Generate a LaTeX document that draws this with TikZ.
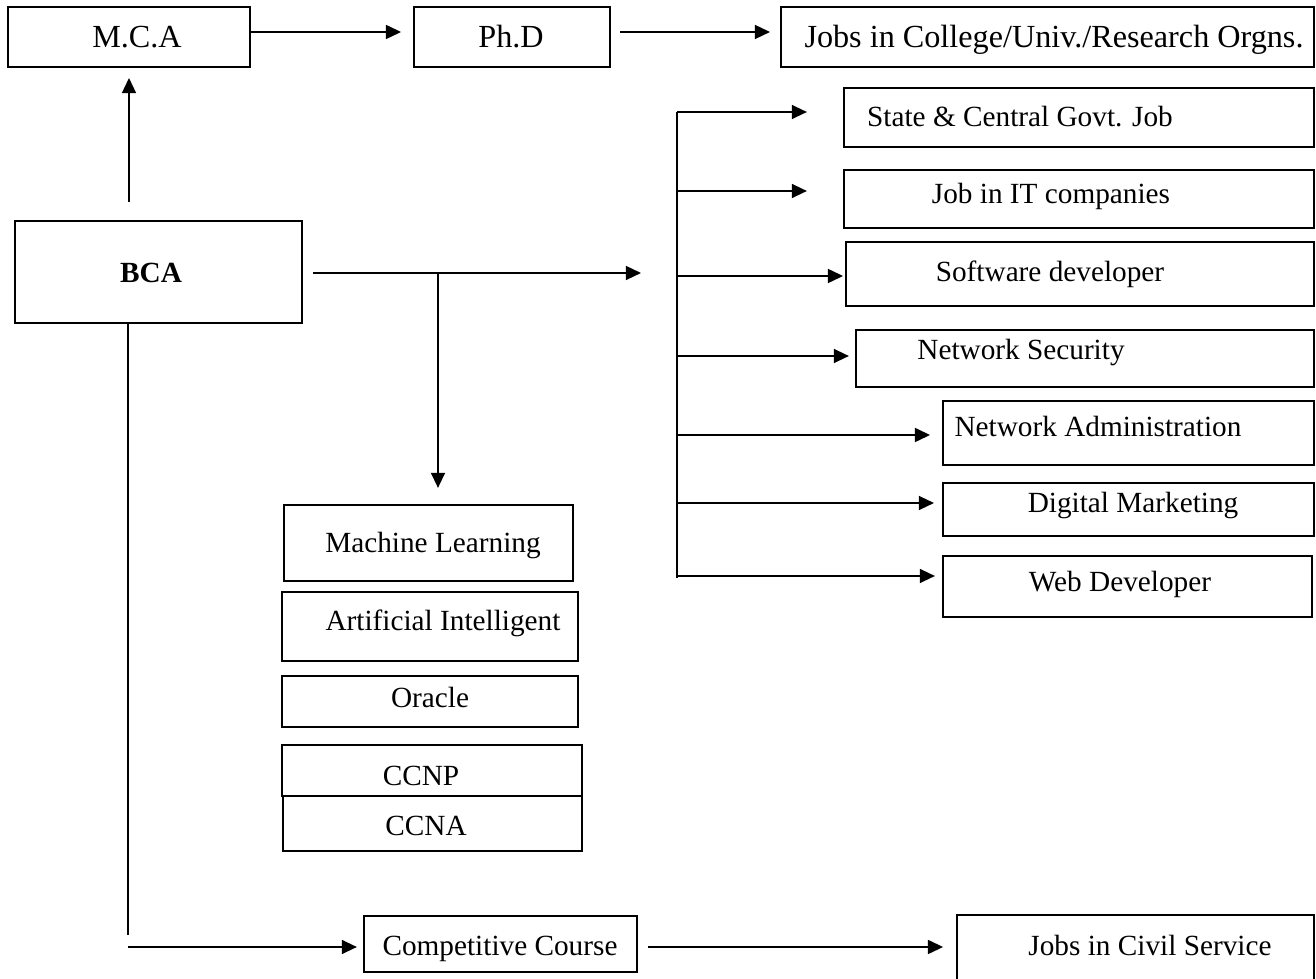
\documentclass[tikz,border=0pt]{standalone}
\usepackage{fontspec}
\setmainfont{Liberation Serif}
\usetikzlibrary{arrows.meta,fit}
\tikzstyle{box}=[draw,line width=0.8pt,inner sep=0pt]
\tikzstyle{txt}=[anchor=base,inner sep=0pt,font=\fontsize{12}{14}\selectfont]
\tikzstyle{toptxt}=[txt,font=\fontsize{13.2}{15}\selectfont]
\tikzstyle{arr}=[line width=0.8pt,-{Triangle[length=6.2pt,width=5.7pt]}]

\begin{document}
\begin{tikzpicture}[x=0.41pt,y=-0.41pt]
\useasboundingbox (0,0) rectangle (1316,979);

% top row
\node[box,fit={(8,7) (250,67)}] (mca) {};
\node[box,fit={(414,7) (610,67)}] (phd) {};
\node[box,fit={(781,7) (1314,67)}] (jobs) {};
\node[toptxt] (mcatxt) at (137,48) {M.C.A};
\node[toptxt] (phdtxt) at (511,48) {Ph.D};
\node[toptxt] (jobstxt) at (1054,48) {Jobs in College/Univ./Research Orgns.};

% BCA
\node[box,fit={(15,221) (302,323)}] (bca) {};
\node[txt] (bcatxt) at (151,283) {\textbf{BCA}};

% jobs on the right
\node[box,fit={(844,88) (1314,147)}] (state) {};
\node[box,fit={(844,170) (1314,228)}] (itjob) {};
\node[box,fit={(846,242) (1314,306)}] (soft) {};
\node[box,fit={(856,330) (1314,387)}] (netsec) {};
\node[box,fit={(943,401) (1314,465)}] (netadm) {};
\node[box,fit={(943,483) (1314,536)}] (digmkt) {};
\node[box,fit={(943,556) (1312,617)}] (webdev) {};
\node[txt] (statetxt) at (1020,127) {State \& Central Govt. Job};
\node[txt] (itjobtxt) at (1051,204) {Job in IT companies};
\node[txt] (softtxt) at (1050,282) {Software developer};
\node[txt] (netsectxt) at (1021,360) {Network Security};
\node[txt] (netadmtxt) at (1098,437) {Network Administration};
\node[txt] (digmkttxt) at (1133,513) {Digital Marketing};
\node[txt] (webdevtxt) at (1120,592) {Web Developer};

% courses
\node[box,fit={(284,505) (573,581)}] (ml) {};
\node[box,fit={(282,592) (578,661)}] (ai) {};
\node[box,fit={(282,676) (578,727)}] (oracle) {};
\node[box,fit={(282,745) (582,796)}] (ccnp) {};
\node[box,fit={(283,796) (582,851)}] (ccna) {};
\node[txt] (mltxt) at (433,553) {Machine Learning};
\node[txt] (aitxt) at (443,631) {Artificial Intelligent};
\node[txt] (oracletxt) at (430,708) {Oracle};
\node[txt] (ccnptxt) at (421,786) {CCNP};
\node[txt] (ccnatxt) at (426,836) {CCNA};

% bottom row
\node[box,fit={(364,916) (637,972)}] (comp) {};
\node[box,fit={(957,915) (1314,990)}] (civil) {};
\node[txt] (comptxt) at (500,955) {Competitive Course};
\node[txt] (civiltxt) at (1150,955) {Jobs in Civil Service};

% connectors
\coordinate (toprow) at (0,32);
\draw[arr,shorten >=4.9pt] (mca.east |- toprow) -- (phd.west |- toprow);
\draw[arr,shorten <=3.7pt,shorten >=4.1pt] (phd.east |- toprow) -- (jobs.west |- toprow);
\draw[arr,shorten <=7.4pt,shorten >=4.1pt] (mca.south |- bca.north) -- (mca.south);

\coordinate (bcaend) at (641,273);
\coordinate (split) at (438,273);
\draw[arr,shorten <=4.1pt] (bca.east |- bcaend) -- (bcaend);
\draw[arr,shorten >=6.6pt] (split) -- (split |- ml.north);

\coordinate (bus1) at (677,112);
\coordinate (bus2) at (677,191);
\coordinate (bus3) at (677,276);
\coordinate (bus4) at (677,356);
\coordinate (bus5) at (677,435);
\coordinate (bus6) at (677,503);
\coordinate (bus7) at (677,576);
\coordinate (busend) at (677,578);
\draw[line width=0.8pt] (bus1) -- (busend);
\draw[arr,shorten >=14.8pt] (bus1) -- (bus1 -| state.west);
\draw[arr,shorten >=14.8pt] (bus2) -- (bus2 -| itjob.west);
\draw[arr,shorten >=0.8pt] (bus3) -- (bus3 -| soft.west);
\draw[arr,shorten >=2.5pt] (bus4) -- (bus4 -| netsec.west);
\draw[arr,shorten >=4.9pt] (bus5) -- (bus5 -| netadm.west);
\draw[arr,shorten >=3.3pt] (bus6) -- (bus6 -| digmkt.west);
\draw[arr,shorten >=2.9pt] (bus7) -- (bus7 -| webdev.west);

\coordinate (corner) at (128,947);
\coordinate (leftend) at (128,935);
\draw[line width=0.8pt] (bca.south -| corner) -- (leftend);
\draw[arr,shorten >=2.5pt] (corner) -- (corner -| comp.west);
\draw[arr,shorten <=4.1pt,shorten >=5.3pt] (comp.east |- corner) -- (civil.west |- corner);
\end{tikzpicture}
\end{document}
